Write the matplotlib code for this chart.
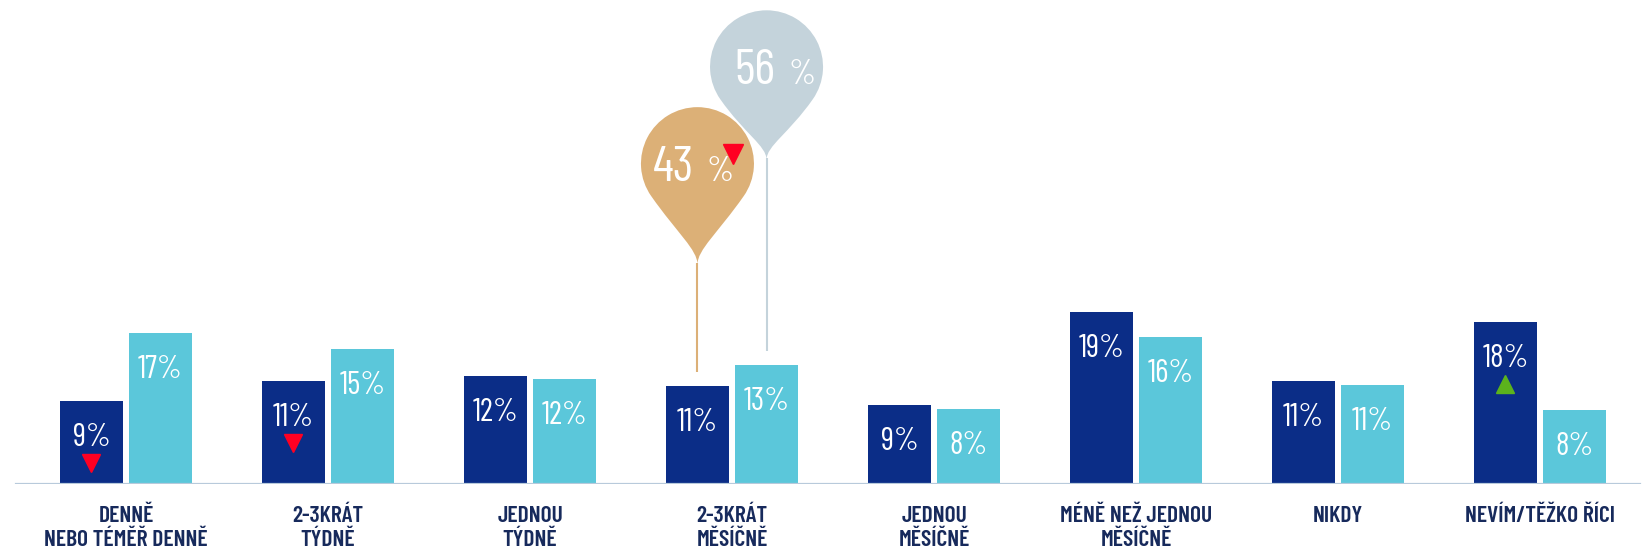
import numpy as np
import matplotlib.pyplot as plt
from matplotlib.path import Path
from matplotlib.patches import PathPatch
from matplotlib.transforms import ScaledTranslation

plt.rcParams['font.family'] = ['Barlow Condensed', 'DejaVu Sans']

# data
categories = [['DENNĚ', 'NEBO TÉMĚŘ DENNĚ'], ['2-3KRÁT', 'TÝDNĚ'], ['JEDNOU', 'TÝDNĚ'],
              ['2-3KRÁT', 'MĚSÍČNĚ'], ['JEDNOU', 'MĚSÍČNĚ'], ['MÉNĚ NEŽ JEDNOU', 'MĚSÍČNĚ'],
              ['NIKDY'], ['NEVÍM/TĚŽKO ŘÍCI']]
dark_vals = [9.2, 11.4, 11.9, 10.8, 8.7, 19.0, 11.4, 17.9]
light_vals = [16.7, 14.9, 11.6, 13.2, 8.3, 16.3, 11.0, 8.2]
dark_marks = ['down', 'down', None, None, None, None, None, 'up']

# balloons over group "2-3KRÁT MĚSÍČNĚ"
balloon_group = 3
balloon_vals = [43, 56]
balloon_marks = ['down', None]

DARK = '#0b2d87'
LIGHT = '#5bc7da'
BALLOON_COLS = ['#dcb077', '#c4d3db']
RED = '#ff0022'
GREEN = '#5cb31c'
BASE = '#b8cadb'
TXT = '#172a5c'

W, H = 16.48, 5.54
DPI = 100
base_px = 70          # baseline height from bottom, px
px_per_pct = 9.04
group_px = 202
first_px = 126

fig = plt.figure(figsize=(W, H), dpi=DPI)
ax = fig.add_axes([0, base_px / 554, 1, (554 - base_px) / 554])
ax.set_ylim(0, (554 - base_px) / px_per_pct)
ax.set_xlim(-first_px / group_px, (1648 - first_px) / group_px)
ax.axis('off')

x = np.arange(len(categories))
off, bw = 0.171, 0.312
ax.bar(x - off, dark_vals, bw, color=DARK, zorder=2)
ax.bar(x + off, light_vals, bw, color=LIGHT, zorder=2)
ax.axhline(0, xmin=16 / 1648, xmax=1640 / 1648, color=BASE, lw=1.6, zorder=3)

pt = 72 / DPI  # points per pixel
for xs, vals in [(x - off, dark_vals), (x + off, light_vals)]:
    for xi, v in zip(xs, vals):
        ax.annotate(f"{v:.0f}%", (xi, v), xytext=(0, -45 * pt), textcoords='offset points',
                    ha='center', va='baseline', color='white', fontsize=23, zorder=4)

mark_shift = ScaledTranslation(0, -62 / DPI, fig.dpi_scale_trans)
for xi, v, m in zip(x - off, dark_vals, dark_marks):
    if m is None:
        continue
    ax.plot(xi, v, marker='v' if m == 'down' else '^', color=RED if m == 'down' else GREEN,
            markersize=13.5, transform=ax.transData + mark_shift, zorder=5, clip_on=False)

for xi, lines in zip(x, categories):
    for k, line in enumerate(lines):
        ax.annotate(line, (xi, 0), xytext=(0, -(37.5 + 25 * k) * pt), textcoords='offset points',
                    ha='center', va='baseline', color=TXT, fontsize=17, fontweight='semibold',
                    annotation_clip=False)

# balloons, drawn in pixel coordinates
bx = fig.add_axes([0, 0, 1, 1])
bx.set_xlim(0, 1648)
bx.set_ylim(0, 554)
bx.axis('off')


def balloon_path(cx, cy, r=56.5, h=100, phi=55):
    a, b = 0.45 * h, 0.15 * h
    p = np.radians(phi)
    pr = np.array([cx + r * np.sin(p), cy - r * np.cos(p)])
    pl = np.array([cx - r * np.sin(p), cy - r * np.cos(p)])
    tip = np.array([cx, cy - h])
    c2 = np.array([cx, cy - h + b])
    c1r = pr + a * np.array([-np.cos(p), -np.sin(p)])
    c1l = pl + a * np.array([np.cos(p), -np.sin(p)])
    arc = Path.arc(-90 + phi, 270 - phi)
    av = arc.vertices * r + [cx, cy]
    verts = [tip, c2, c1r, pr] + list(av[1:]) + [c1l, c2, tip, tip]
    codes = ([Path.MOVETO] + [Path.CURVE4] * 3 + list(arc.codes[1:]) +
             [Path.CURVE4] * 3 + [Path.CLOSEPOLY])
    return Path(verts, codes)


bar_sides = [(balloon_group - off, dark_vals[balloon_group]), (balloon_group + off, light_vals[balloon_group])]
text_shift = [-3.5, 9]
tails = [101, 93]
for (bxv, top), val, col, m, sh, h in zip(bar_sides, balloon_vals, BALLOON_COLS, balloon_marks,
                                          text_shift, tails):
    cx = ax.transData.transform((bxv, 0))[0]
    cy = base_px + val * 7.45
    bx.add_patch(PathPatch(balloon_path(cx, cy, h=h), facecolor=col, edgecolor='none'))
    bx.plot([cx, cx], [cy - h + 2, base_px + top * px_per_pct + 14], color=col, lw=1.5,
            solid_capstyle='butt')
    bx.text(cx + sh, cy - 17, f"{val}", ha='right', va='baseline', color='white', fontsize=36)
    bx.text(cx + sh + 13, cy - 17, "%", ha='left', va='baseline', color='white', fontsize=25)
    if m is not None:
        bx.plot(cx + 36, cy + 10, marker='v', color=RED, markersize=15)

fig.savefig('out.png', dpi=DPI)
